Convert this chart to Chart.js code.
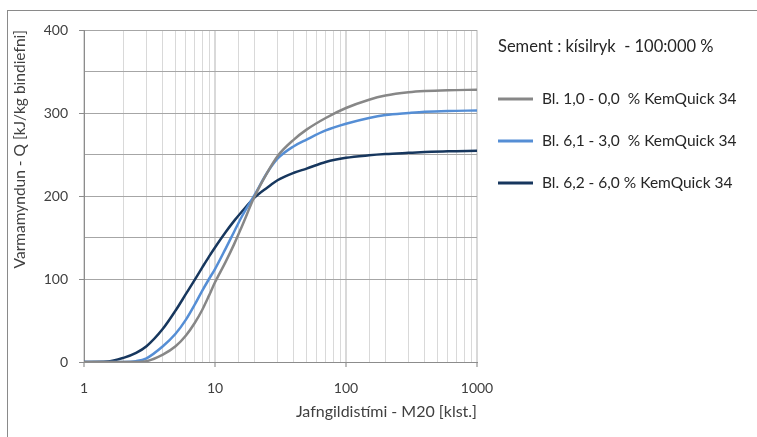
<!DOCTYPE html>
<html>
<head>
<meta charset="utf-8">
<script src="https://cdn.jsdelivr.net/npm/chart.js@4"></script>
<style>
    body { margin: 0; background: #fff; }
    #ramma {
        position: absolute; left: 7px; top: 10px; right: 0; bottom: 0;
        border-top: 1px solid #8a8a8a; border-left: 1px solid #8a8a8a;
    }
    #wrap { position: absolute; left: 0; top: 0; width: 757px; height: 437px; }
</style>
</head>
<body>
<div id="ramma"></div>
<div id="wrap"><canvas id="varmi" width="757" height="437"></canvas></div>
<script>
// jafngildistími (klst)
const timar = [1, 1.5, 2, 2.5, 3, 4, 5, 6, 7, 8, 9, 10, 12, 14, 16, 20, 25, 30, 40, 50, 70, 100, 150, 200, 300, 400, 600, 1000];

// varmamyndun Q [kJ/kg]
const bl10 = [0, 0, 0, 0, 1, 9, 19, 32, 47, 63, 80, 96, 120, 142, 163, 199, 228, 248, 268, 280, 294, 306, 316, 321, 325, 326.5, 327.5, 328];
const bl61 = [0, 0, 0, 1, 4.5, 19, 34, 51, 69, 86, 100, 112, 136, 157, 175, 201, 228, 245, 260, 268, 279, 287, 294, 297.5, 300, 301.5, 302.5, 303];
const bl62 = [0, 0.5, 5, 11, 19, 40, 62, 82, 99, 114, 127, 138, 156, 170, 181, 198, 210, 219, 228, 233, 241, 246, 249, 250.5, 252, 253, 254, 254.5];

const heiti = [
    "Bl. 1,0 - 0,0  % KemQuick 34",
    "Bl. 6,1 - 3,0  % KemQuick 34",
    "Bl. 6,2 - 6,0 % KemQuick 34",
];
const litir = ["#878787", "#558ed5", "#17375e"];
const skyringTitill = "Sement : kísilryk  - 100:000 %";

const yTikk = [0, 100, 200, 300, 400];

const letur = "Lato, 'Open Sans', sans-serif";
Chart.defaults.font.family = letur;
Chart.defaults.font.size = 14;
Chart.defaults.color = "#404040";

function punktar(gildi) {
    return timar.map((t, i) => ({ x: t, y: gildi[i] }));
}

function erVeldi(v) {
    const l = Math.log10(v);
    return Math.abs(l - Math.round(l)) < 1e-9;
}

// teiknar skýringuna til hægri
const skyring = {
    id: "skyring",
    afterDraw(chart) {
        const ctx = chart.ctx;
        ctx.save();
        ctx.fillStyle = "#262626";
        ctx.textBaseline = "middle";
        ctx.textAlign = "left";
        ctx.font = "16.5px " + letur;
        ctx.fillText(skyringTitill, 498, 47);
        ctx.font = "15.5px " + letur;
        chart.data.datasets.forEach((ds, i) => {
            const y = 99 + i * 42;
            ctx.strokeStyle = ds.borderColor;
            ctx.lineWidth = 3;
            ctx.beginPath();
            ctx.moveTo(498, y);
            ctx.lineTo(533, y);
            ctx.stroke();
            ctx.fillText(ds.label, 542, y);
        });
        ctx.restore();
    },
};

new Chart(document.getElementById("varmi"), {
    type: "scatter",
    data: {
        datasets: [bl10, bl61, bl62].map((g, i) => ({
            label: heiti[i],
            data: punktar(g),
            showLine: true,
            borderColor: litir[i],
            backgroundColor: litir[i],
            borderWidth: 2.5,
            pointRadius: 0,
            cubicInterpolationMode: "monotone",
        })),
    },
    options: {
        responsive: false,
        animation: false,
        layout: { padding: { left: 0, top: 30, right: 280, bottom: 0 } },
        plugins: {
            legend: { display: false },
            tooltip: { enabled: false },
        },
        scales: {
            x: {
                type: "logarithmic",
                min: 1,
                max: 1000,
                afterFit: (s) => { s.height = 75; },
                border: { color: "#8c8c8c", width: 1 },
                grid: {
                    color: "#d9d9d9",
                    lineWidth: (c) => (c.tick && erVeldi(c.tick.value) ? 2 : 1),
                    tickColor: (c) => (c.tick && erVeldi(c.tick.value) ? "#bfbfbf" : "rgba(0,0,0,0)"),
                    tickLength: 5,
                },
                ticks: {
                    autoSkip: false,
                    maxRotation: 0,
                    padding: 13,
                    callback: (v) => (erVeldi(v) ? String(v) : ""),
                },
                title: {
                    display: true,
                    text: "Jafngildistími - M20 [klst.]",
                    align: "end",
                    font: { size: 16 },
                    padding: { top: 0, bottom: 16 },
                },
            },
            y: {
                min: 0,
                max: 400,
                afterFit: (s) => { s.width = 84; },
                afterBuildTicks: (s) => {
                    s.ticks = [0, 50, 100, 150, 200, 250, 300, 350, 400].map((v) => ({ value: v }));
                },
                border: { color: "#8c8c8c", width: 1 },
                grid: {
                    color: (c) => (c.tick && (c.tick.value === 0 || c.tick.value === 50) ? "rgba(0,0,0,0)" : "#a6a6a6"),
                    tickColor: (c) => (c.tick && yTikk.includes(c.tick.value) ? "#8c8c8c" : "rgba(0,0,0,0)"),
                    tickLength: 5,
                },
                ticks: {
                    padding: 11,
                    callback: (v) => (yTikk.includes(v) ? String(v) : ""),
                },
                title: {
                    display: true,
                    text: "Varmamyndun - Q [kJ/kg bindiefni]",
                    align: "end",
                    font: { size: 15.5 },
                    padding: { top: 11, bottom: 0 },
                },
            },
        },
    },
    plugins: [skyring],
});
</script>
</body>
</html>
